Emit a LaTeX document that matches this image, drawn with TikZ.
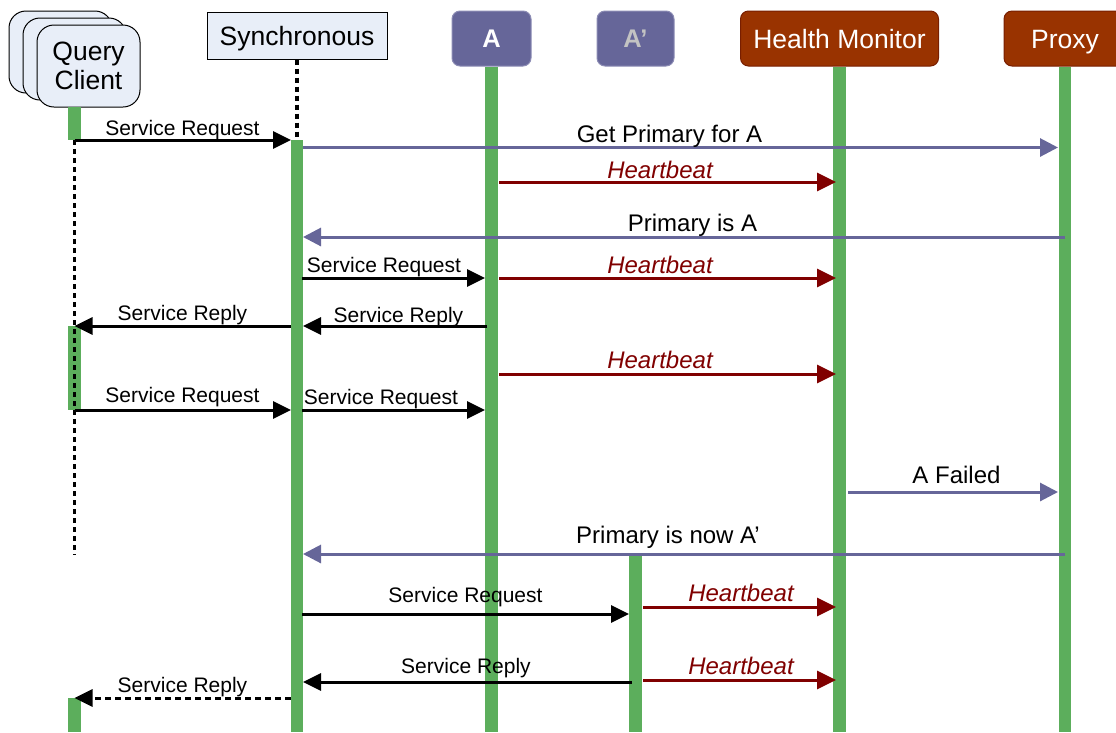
\documentclass[tikz,border=0pt]{standalone}
\usepackage{fontspec}
\setmainfont{Liberation Sans}
\usetikzlibrary{arrows.meta}
\definecolor{life}{RGB}{92,174,92}
\definecolor{purp}{RGB}{102,102,153}
\definecolor{purpedge}{RGB}{140,140,180}
\definecolor{hbred}{RGB}{128,0,0}
\definecolor{rust}{RGB}{153,51,0}
\definecolor{rustedge}{RGB}{120,30,0}
\definecolor{paleblue}{RGB}{232,238,248}
\definecolor{dimtext}{RGB}{195,195,195}
\tikzset{
  hdrfont/.style={font=\fontsize{26.5}{29}\selectfont},
  clientbox/.style={draw=black, line width=1pt, fill=paleblue, rounded corners=17pt,
    minimum width=103pt, minimum height=82pt, inner sep=0pt, align=center, hdrfont},
  objbox/.style={draw=purpedge, line width=1pt, fill=purp, rounded corners=8pt,
    minimum height=55pt, inner sep=0pt, text height=18pt, text depth=0pt,
    font=\fontsize{25.5}{27}\selectfont\bfseries},
  svcbox/.style={draw=rustedge, line width=1pt, fill=rust, rounded corners=8pt,
    minimum height=55pt, inner sep=0pt, text height=19pt, text depth=0pt,
    text=white, hdrfont},
  bar/.style={line width=12.5pt, life},
  dotline/.style={line width=3.2pt, dash pattern=on 5pt off 4pt},
  req/.style={line width=3pt, black, -{Triangle[length=18pt,width=17pt]}},
  repdash/.style={req, dash pattern=on 6pt off 4pt},
  ctl/.style={line width=3pt, purp, -{Triangle[length=18pt,width=18pt]}},
  hb/.style={line width=3pt, hbred, -{Triangle[length=19pt,width=18pt]}},
  lbl/.style={anchor=base, inner sep=0pt, font=\fontsize{21}{24}\selectfont},
  ctllbl/.style={anchor=base, inner sep=0pt, font=\fontsize{24}{26}\selectfont},
  hblbl/.style={anchor=base, inner sep=0pt, text=hbred, font=\fontsize{24}{26}\selectfont\itshape},
}
\begin{document}
\begin{tikzpicture}[x=1pt,y=-1pt]
\useasboundingbox (0,0) rectangle (1116,732);
\clip (0,0) rectangle (1116,732);

% ---- participants ----
\node[clientbox] (qc3) at (60.5,52) {};
\node[clientbox] (qc2) at (74.5,59) {};
\node[clientbox] (qc) at (88.5,66) {Query\\Client};
\coordinate (qcl) at (74.5,107);

\node[draw=black, line width=1pt, fill=paleblue, minimum width=180pt, minimum height=47pt,
      inner sep=0pt, text height=19pt, text depth=0pt, hdrfont] (sync) at (297,35.5) {Synchronous};
\node[objbox, minimum width=79pt, text=white] (a) at (491.5,38.5) {A};
\node[objbox, minimum width=77pt, text=dimtext] (ap) at (635.5,38.5) {A’};
\node[svcbox, minimum width=198pt] (hm) at (839.5,38.5) {Health Monitor};
\node[svcbox, minimum width=122pt] (px) at (1065,38.5) {Proxy};

% ---- lifelines and activation bars ----
\draw[dotline] (sync.south) -- (sync.south |- 0,140);
\draw[bar] (qcl) -- (qcl |- 0,140);
\draw[bar] (qcl |- 0,326) -- (qcl |- 0,410);
\draw[bar] (qcl |- 0,698) -- (qcl |- 0,732);
\draw[dotline] (qcl |- 0,140) -- (qcl |- 0,555);
\draw[bar] (sync.south |- 0,140) -- (sync.south |- 0,732);
\draw[bar] (a.south) -- (a.south |- 0,732);
\draw[bar] (ap.south |- 0,555) -- (ap.south |- 0,732);
\draw[bar] (hm.south) -- (hm.south |- 0,732);
\draw[bar] (px.south) -- (px.south |- 0,732);

% ---- messages ----
\draw[req] (qcl |- 0,140) -- ([xshift=-6pt]sync.south |- 0,140);
\node[lbl] at (182.5,135) {Service Request};

\draw[ctl] ([xshift=6pt]sync.south |- 0,147.5) -- ([xshift=-7pt]px.south |- 0,147.5);
\node[ctllbl] at (669.5,142) {Get Primary for A};

\draw[hb] ([xshift=7.5pt]a.south |- 0,182) -- ([xshift=-3.5pt]hm.south |- 0,182);
\node[hblbl] at (660,178) {Heartbeat};

\draw[ctl] (px.south |- 0,237) -- ([xshift=6pt]sync.south |- 0,237);
\node[ctllbl] at (692.5,231) {Primary is A};

\draw[req] ([xshift=5pt]sync.south |- 0,278) -- ([xshift=-6.5pt]a.south |- 0,278);
\node[lbl] at (384,272) {Service Request};
\draw[hb] ([xshift=7.5pt]a.south |- 0,278) -- ([xshift=-3.5pt]hm.south |- 0,278);
\node[hblbl] at (660,273) {Heartbeat};

\draw[req] ([xshift=-4.5pt]a.south |- 0,326) -- ([xshift=6pt]sync.south |- 0,326);
\node[lbl] at (398.5,322) {Service Reply};
\draw[req] ([xshift=-6pt]sync.south |- 0,326) -- (qcl |- 0,326);
\node[lbl] at (182.5,320) {Service Reply};

\draw[hb] ([xshift=7.5pt]a.south |- 0,374) -- ([xshift=-3.5pt]hm.south |- 0,374);
\node[hblbl] at (660,368) {Heartbeat};

\draw[req] (qcl |- 0,410) -- ([xshift=-6pt]sync.south |- 0,410);
\node[lbl] at (182.5,402) {Service Request};
\draw[req] ([xshift=5pt]sync.south |- 0,410) -- ([xshift=-6.5pt]a.south |- 0,410);
\node[lbl] at (381,404) {Service Request};

\draw[ctl] ([xshift=8.5pt]hm.south |- 0,492) -- ([xshift=-7pt]px.south |- 0,492);
\node[ctllbl] at (956.5,483) {A Failed};

\draw[ctl] (px.south |- 0,554) -- ([xshift=6pt]sync.south |- 0,554);
\node[ctllbl] at (668,543) {Primary is now A’};

\draw[req] ([xshift=5pt]sync.south |- 0,614) -- ([xshift=-6.5pt]ap.south |- 0,614);
\node[lbl] at (465.5,602) {Service Request};
\draw[hb] ([xshift=7.5pt]ap.south |- 0,607) -- ([xshift=-3.5pt]hm.south |- 0,607);
\node[hblbl] at (741,601) {Heartbeat};

\draw[req] ([xshift=-3.5pt]ap.south |- 0,682) -- ([xshift=6pt]sync.south |- 0,682);
\node[lbl] at (466,673) {Service Reply};
\draw[hb] ([xshift=7.5pt]ap.south |- 0,680) -- ([xshift=-3.5pt]hm.south |- 0,680);
\node[hblbl] at (741,674) {Heartbeat};

\draw[repdash] ([xshift=-6pt]sync.south |- 0,698) -- (qcl |- 0,698);
\node[lbl] at (182.5,692) {Service Reply};
\end{tikzpicture}
\end{document}
